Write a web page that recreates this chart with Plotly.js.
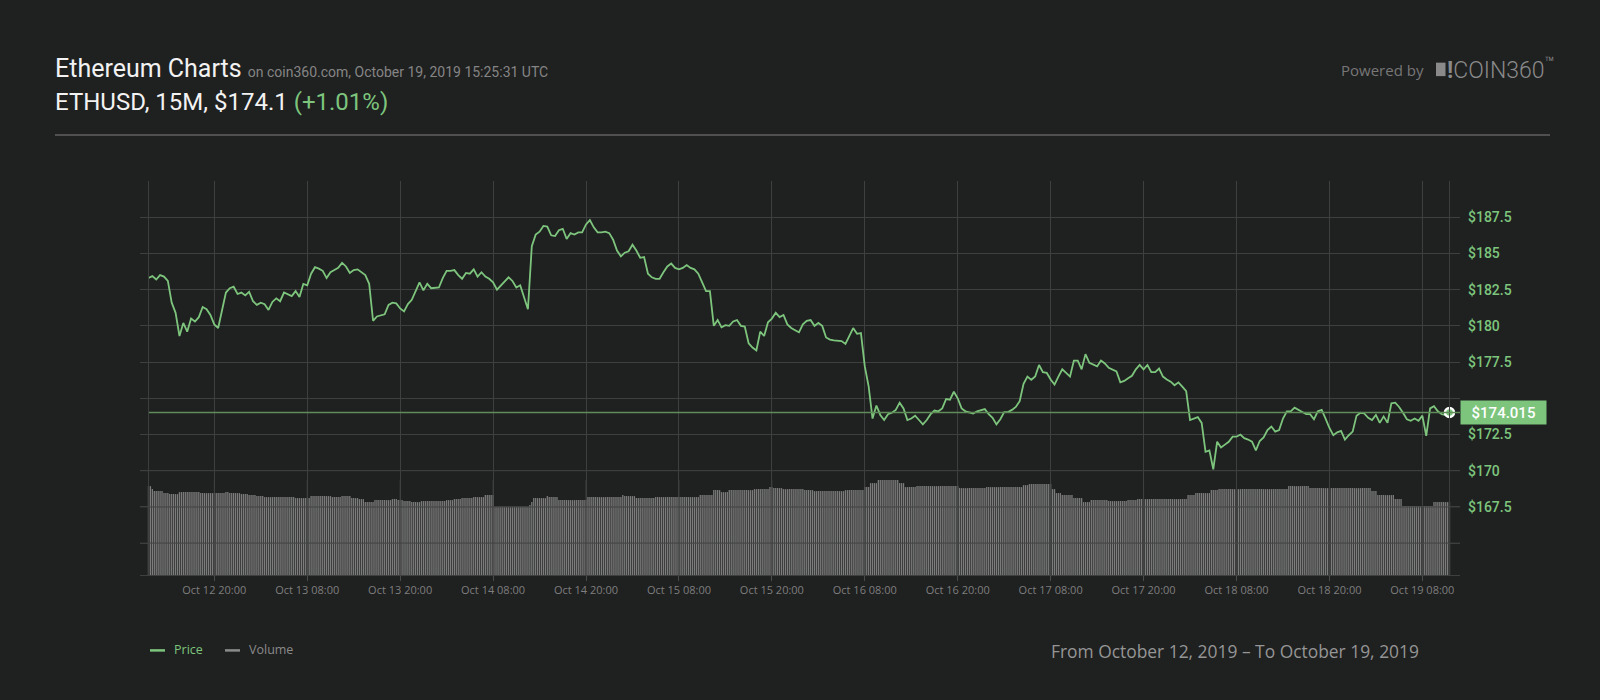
<!DOCTYPE html>
<html>
<head>
<meta charset="utf-8">
<script src="https://cdn.plot.ly/plotly-3.0.1.min.js"></script>
<style>
html,body{margin:0;padding:0;background:#1f2020;}
#chart{width:1600px;height:700px;}
</style>
</head>
<body>
<div id="chart"></div>
<script>
// ---------- DATA ----------
const startTime = '2019-10-12T11:30:00Z';   // first 15M candle shown
const stepMinutes = 15;

// ETHUSD price, one value every 30 minutes (Oct 12 11:30 -> Oct 19 11:30)
const price = [
183.3,183.43,183.2,183.5,183.4,183.1,181.6,180.9,179.3,180.2,
179.6,180.5,180.3,180.6,181.3,181.15,180.75,180.1,179.85,181.0,
182.3,182.6,182.7,182.2,182.3,182.1,182.35,181.7,181.45,181.6,
181.5,181.1,181.65,181.9,181.7,182.3,182.2,182.05,182.4,182.0,
182.9,182.8,183.6,184.05,183.95,183.8,183.3,183.7,183.85,184.0,
184.35,184.1,183.65,183.85,183.9,183.7,183.5,182.9,180.35,180.65,
180.75,180.8,181.45,181.6,181.55,181.2,181.0,181.5,181.8,182.45,
183.0,182.45,182.9,182.6,182.65,182.65,183.3,183.8,183.8,183.85,
183.5,183.25,183.65,183.6,183.9,183.4,183.7,183.4,183.25,183.0,
182.5,182.8,183.1,183.35,183.1,182.65,182.8,182.0,181.15,185.5,
186.3,186.5,186.9,186.85,186.25,186.2,186.6,186.7,186.0,186.4,
186.3,186.45,186.45,187.0,187.3,186.8,186.45,186.45,186.5,186.4,
185.95,185.2,184.8,185.05,185.15,185.6,185.2,184.7,184.75,183.6,
183.35,183.25,183.25,183.7,184.1,184.3,184.0,183.9,184.0,184.2,
184.0,183.9,183.6,183.0,182.4,182.4,180.0,180.4,179.9,180.05,
180.0,180.3,180.4,180.0,179.95,178.8,178.5,178.3,179.6,179.3,
180.25,180.5,180.9,180.6,180.75,180.1,179.85,179.7,179.55,180.1,
180.35,180.4,180.0,180.2,180.0,179.2,179.05,179.0,179.0,178.95,
178.75,179.25,179.85,179.45,179.5,177.2,175.8,173.6,174.5,173.85,
173.5,173.9,174.0,174.2,174.7,174.3,173.5,173.6,173.8,173.5,
173.2,173.5,173.9,174.15,174.1,174.3,174.95,174.9,175.45,175.0,
174.3,174.1,174.0,173.95,174.1,174.2,174.25,173.9,173.65,173.2,
173.55,174.05,174.05,174.2,174.4,174.8,176.0,176.5,176.28,176.5,
177.3,176.8,176.75,176.3,175.95,176.5,177.0,176.75,176.5,177.6,
177.6,177.0,178.05,177.45,177.35,177.2,177.6,177.4,177.1,177.0,
176.85,176.1,176.2,176.38,176.55,177.0,177.3,177.0,177.3,176.8,
176.8,177.05,176.5,176.3,176.15,175.9,176.1,175.8,175.5,173.5,
173.6,173.7,173.3,171.3,171.4,170.1,172.0,171.6,171.8,172.0,
172.35,172.35,172.5,172.25,172.15,172.0,171.4,172.05,172.3,172.8,
173.05,172.7,172.8,173.6,174.1,174.1,174.35,174.2,174.0,173.9,
173.9,173.55,174.1,174.2,173.6,172.95,172.45,172.65,172.75,172.15,
172.45,172.7,173.8,174.0,173.95,173.65,173.5,173.85,173.3,173.75,
173.3,174.65,174.7,174.4,174.0,173.55,173.45,173.6,173.45,173.8,
172.4,174.3,174.45,174.1,173.9,173.85,174.015
];
const lastPrice = 174.015;

// Volume, one value per 15M candle (relative units)
const volume = [
89,89,86,84,84,84,84,84,82,82,82,81,81,81,81,81,83,83,83,83,83,83,83,83,
83,83,83,82,82,82,82,82,82,82,82,82,82,82,82,82,83,83,82,82,82,82,82,82,
81,81,81,81,80,80,80,80,79,79,79,79,78,78,78,78,78,78,78,78,78,78,78,78,
78,78,78,78,77,77,77,77,77,77,77,77,79,79,79,79,79,79,79,79,79,79,79,78,
78,78,78,78,79,79,79,79,79,77,77,77,77,76,76,76,73,73,73,73,73,75,75,75,
75,75,75,75,75,75,76,76,76,75,75,75,74,74,74,74,73,73,73,73,73,74,74,74,
74,74,74,74,74,74,74,74,74,74,75,75,75,75,76,76,76,76,77,77,77,77,77,77,
78,78,78,78,78,78,80,80,80,80,80,68,68,68,68,68,68,68,68,68,68,68,68,68,
68,68,68,68,68,70,73,77,77,77,77,77,77,77,79,78,78,78,78,78,75,75,75,75,
75,75,75,75,75,75,75,75,75,75,75,78,78,78,78,78,78,78,78,78,78,78,78,78,
78,78,78,78,78,80,79,79,79,79,79,79,77,77,77,77,77,77,77,77,77,77,78,78,
78,78,78,78,78,78,78,78,78,78,78,78,78,78,78,78,78,78,78,78,78,80,80,80,
80,80,80,80,85,85,85,85,83,83,83,83,85,85,85,85,85,85,85,85,85,85,85,85,
85,86,86,86,86,86,86,86,86,88,88,87,87,87,87,87,86,86,86,86,86,86,86,86,
86,86,86,85,85,85,85,85,84,84,84,84,84,84,84,84,84,84,84,84,84,84,84,84,
85,85,85,85,85,85,85,85,85,85,88,88,88,92,92,92,92,95,95,95,95,95,95,95,
95,95,95,95,92,92,92,88,88,88,88,88,88,89,89,89,89,89,89,89,89,89,89,89,
89,89,89,89,89,89,89,89,89,89,89,87,87,87,87,87,87,87,87,87,87,87,87,87,
87,88,88,88,88,88,88,88,88,88,88,88,88,88,88,88,88,88,88,88,90,90,90,91,
91,91,91,91,91,91,91,91,91,91,91,86,86,82,82,82,80,80,80,80,80,80,77,77,
77,77,77,73,73,73,73,75,75,75,75,75,75,75,75,75,74,74,74,74,74,74,74,74,
74,74,75,75,75,75,75,76,76,76,76,76,76,76,76,76,76,76,76,76,76,76,76,76,
76,76,76,76,76,76,76,76,76,80,80,80,80,82,82,82,82,82,82,82,82,85,85,85,
85,86,86,86,86,86,86,86,86,86,86,86,86,86,86,86,86,86,86,86,86,86,86,86,
86,86,86,86,86,86,86,86,86,86,86,86,86,89,89,89,89,89,89,89,89,89,89,89,
87,87,87,87,87,87,87,87,87,87,87,87,87,87,87,87,87,87,87,87,87,87,87,87,
87,87,87,87,87,87,87,87,84,84,84,80,80,80,80,80,80,80,80,80,76,76,76,76,
69,69,69,69,69,69,69,69,69,69,69,69,69,69,69,69,73,73,73,73,73,73,73,73,
73
];

const xTickFirst = '2019-10-12T20:00:00Z';
const xTickCount = 14;          // every 12 hours
const priceTicks = [167.5, 170, 172.5, 177.5, 180, 182.5, 185, 187.5];
const priceTickLabels = ['$167.5', '$170', '$172.5', '$177.5', '$180', '$182.5', '$185', '$187.5'];
const priceGridOnly = [165, 175, 190];   // grid lines without a label

// ---------- helpers ----------
function fmt(d) { return d.toISOString().slice(0, 19).replace('T', ' '); }
const t0 = new Date(startTime).getTime();
const volTimes = volume.map((_, i) => fmt(new Date(t0 + i * stepMinutes * 60000)));
const priceTimes = price.map((_, i) => fmt(new Date(t0 + i * 2 * stepMinutes * 60000)));
const tickT0 = new Date(xTickFirst).getTime();
const tickTimes = Array.from({length: xTickCount}, (_, i) => fmt(new Date(tickT0 + i * 12 * 3600000)));

const W = 1600, H = 700, ML = 140, MR = 140, MT = 181, MB = 124.5;
const PW = W - ML - MR, PH = H - MT - MB;
function px(x) { return (x - ML) / PW; }
function py(y) { return (H - MB - y) / PH; }

const GREEN = '#7dc57d';
const GRID = '#3e3f3f';
const BG = '#1f2020';

const traces = [
  {
    type: 'bar', x: volTimes, y: volume, yaxis: 'y2',
    marker: {color: '#7c7c7c', line: {width: 0}},
    hoverinfo: 'skip', showlegend: false, name: 'Volume'
  },
  {
    type: 'scatter', mode: 'lines', x: priceTimes, y: price,
    line: {color: GREEN, width: 1.8}, hoverinfo: 'skip', showlegend: false, name: 'Price'
  },
  {
    type: 'scatter', mode: 'markers',
    x: [priceTimes[priceTimes.length - 1]], y: [price[price.length - 1]],
    marker: {size: 9, color: GREEN, line: {color: '#ffffff', width: 2.5}},
    hoverinfo: 'skip', showlegend: false
  }
];

const shapes = [
  // header rule
  {type: 'line', xref: 'paper', yref: 'paper', x0: px(55), x1: px(1550), y0: py(135), y1: py(135),
   line: {color: '#505050', width: 2}},
  // data edge borders
  {type: 'line', xref: 'x', yref: 'paper', x0: priceTimes[0], x1: priceTimes[0], y0: 0, y1: 1,
   line: {color: GRID, width: 1}},
  {type: 'line', xref: 'x', yref: 'paper', x0: priceTimes[priceTimes.length - 1], x1: priceTimes[priceTimes.length - 1], y0: 0, y1: 1,
   line: {color: GRID, width: 1}},
  // current price line
  {type: 'line', xref: 'paper', yref: 'y', x0: px(149), x1: 1, y0: lastPrice, y1: lastPrice,
   line: {color: '#5f8c58', width: 1.5}},
  // legend line samples
  {type: 'line', xref: 'paper', yref: 'paper', x0: px(150), x1: px(165), y0: py(651), y1: py(651),
   line: {color: GREEN, width: 2.5}},
  {type: 'line', xref: 'paper', yref: 'paper', x0: px(225), x1: px(240), y0: py(651), y1: py(651),
   line: {color: '#8a8a8a', width: 2.5}},
  // logo block
  {type: 'rect', xref: 'paper', yref: 'paper', x0: px(1436), x1: px(1445.5), y0: py(76), y1: py(62.5),
   fillcolor: '#8a8a8a', line: {width: 0}}
];
// grid lines drawn over the volume bars
const volTop = Math.max.apply(null, volume);
priceTicks.concat(priceGridOnly).filter(v => v < 171).forEach(v => shapes.push({
  type: 'line', xref: 'paper', yref: 'y', x0: 0, x1: 1, y0: v, y1: v, layer: 'above',
  line: {color: GRID, width: 1}
}));
tickTimes.forEach(t => shapes.push({
  type: 'line', xref: 'x', yref: 'y2', x0: t, x1: t, y0: 0, y1: volTop, layer: 'above',
  line: {color: GRID, width: 1}
}));

function ann(text, x, y, font, extra) {
  return Object.assign({text: text, xref: 'paper', yref: 'paper', x: px(x), y: py(y),
    xanchor: 'left', yanchor: 'middle', showarrow: false, font: font}, extra || {});
}

const annotations = [
  ann('Ethereum Charts <span style="font-size:14px;color:#858585">on coin360.com, October 19, 2019 15:25:31 UTC</span>',
      53, 68.5, {family: 'Roboto', size: 25, color: '#f2f2f2'}),
  ann('ETHUSD, 15M, $174.1 <span style="color:' + GREEN + '">(+1.01%)</span>',
      53, 101.5, {family: 'Roboto', size: 24, color: '#f2f2f2'}),
  ann('Powered by', 1339, 69.5, {family: 'Open Sans', size: 15, color: '#777777'}),
  ann('<b>!</b>COIN360<sup>™</sup>', 1445, 68, {family: 'Roboto', size: 23, color: '#8a8a8a', weight: 300}),
  ann('Price', 172, 650, {family: 'Open Sans', size: 12.5, color: GREEN}),
  ann('Volume', 247, 650, {family: 'Open Sans', size: 12.5, color: '#8a8a8a'}),
  ann('From October 12, 2019 – To October 19, 2019', 1049, 651.5,
      {family: 'Open Sans', size: 17.4, color: '#959595'}),
  // current price tag
  {text: '$' + lastPrice.toFixed(3), xref: 'paper', yref: 'y', x: 1, y: lastPrice,
   xanchor: 'left', yanchor: 'middle', showarrow: false,
   font: {family: 'Roboto', size: 15, color: '#ffffff', weight: 500},
   bgcolor: GREEN, width: 81, height: 19, borderpad: 2, align: 'center'}
];

const layout = {
  width: W, height: H,
  paper_bgcolor: BG, plot_bgcolor: BG,
  margin: {l: ML, r: MR, t: MT, b: MB, pad: 0},
  showlegend: false,
  bargap: 0.33,
  xaxis: {
    type: 'date',
    range: ['2019-10-12 10:24:18', '2019-10-19 12:51:36'],
    tickvals: tickTimes,
    tickformat: '%b %d %H:%M',
    showgrid: true, gridcolor: GRID, gridwidth: 1,
    ticks: 'outside', ticklen: 5, tickcolor: '#4a4a4a', tickwidth: 1,
    tickfont: {family: 'Open Sans', size: 11, color: '#7e7e7e'},
    showline: true, linecolor: GRID, linewidth: 1,
    zeroline: false, fixedrange: true
  },
  yaxis: {
    side: 'right',
    range: [162.8, 190],
    tickvals: priceTicks, ticktext: priceTickLabels,
    showgrid: true, gridcolor: GRID, gridwidth: 1,
    minor: {tickvals: priceGridOnly, showgrid: true, gridcolor: GRID, gridwidth: 1, ticks: ''},
    ticks: '', ticklabelstandoff: 7,
    tickfont: {family: 'Roboto', size: 14, color: GREEN, weight: 500},
    zeroline: false, showline: false, fixedrange: true
  },
  yaxis2: {
    overlaying: 'y', side: 'left', range: [0, PH], visible: false, fixedrange: true
  },
  shapes: shapes,
  annotations: annotations
};

Plotly.newPlot('chart', traces, layout, {staticPlot: true, displayModeBar: false});
</script>
</body>
</html>
